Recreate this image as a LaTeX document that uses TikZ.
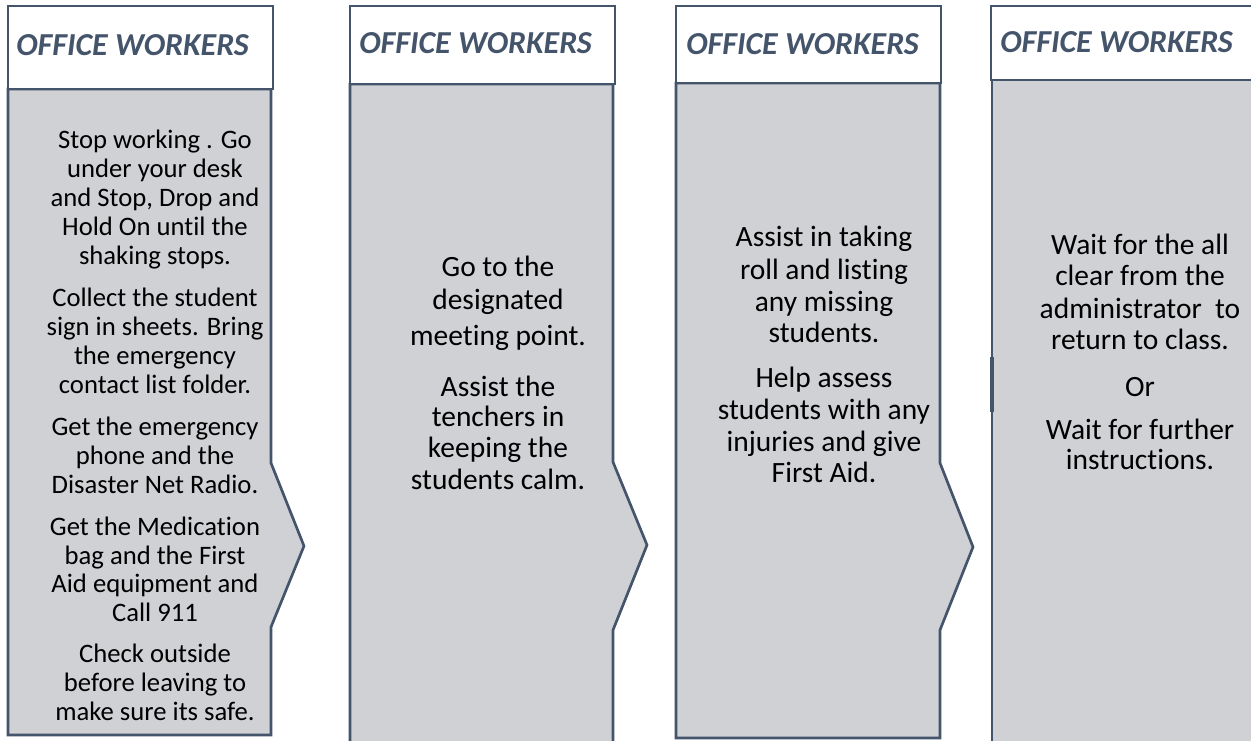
\documentclass[tikz,border=0pt]{standalone}
\usepackage{fontspec}
\setmainfont[Ligatures=NoCommon]{Carlito}
\definecolor{edge}{HTML}{44546A}
\definecolor{panel}{RGB}{208,209,213}
\begin{document}
\begin{tikzpicture}[x=0.75pt,y=-0.75pt,
  box/.style={draw=edge, line width=2pt, line join=miter},
  headtxt/.style={anchor=base west, inner sep=0pt, text=edge, font=\fontsize{24}{28}\selectfont\bfseries\itshape},
  bodyA/.style={anchor=base, inner sep=0pt, font=\fontsize{20}{24}\selectfont},
  bodyB/.style={anchor=base, inner sep=0pt, font=\fontsize{22.1}{26}\selectfont}]
\useasboundingbox (0,0) rectangle (1251,740);
\clip (0,0) rectangle (1251,740);
\fill[white] (0,0) rectangle (1251,740);

% panel 1
\draw[box, fill=panel] (8,89) -- (271,89) -- (271,463) -- (304,546) -- (271,627) -- (271,735) -- (8,735) -- cycle;
\draw[box, fill=white] (8,6) rectangle (273,89);
% panel 2
\draw[box, fill=panel] (350,84) -- (613,84) -- (613,462) -- (647,545) -- (613,630) -- (613,744) -- (350,744) -- cycle;
\draw[box, fill=white] (350,6) rectangle (615,84);
% panel 3
\draw[box, fill=panel] (676,83) -- (940,83) -- (940,463) -- (973,547) -- (940,630) -- (940,738) -- (676,738) -- cycle;
\draw[box, fill=white] (676,6) rectangle (941,83);
% panel 4
\draw[box, fill=panel] (992,80) -- (1262,80) -- (1262,746) -- (992,746) -- cycle;
\draw[box, fill=white] (991,6) rectangle (1262,80);
\draw[edge, line width=3.5pt] (992,357) -- (992,412);

% headers
\node[headtxt] (h1) at (16,55) {OFFICE WORKERS};
\node[headtxt] (h2) at (359,53) {OFFICE WORKERS};
\node[headtxt] (h3) at (686,54) {OFFICE WORKERS};
\node[headtxt] (h4) at (1000,52) {OFFICE WORKERS};

% column 1
\node[bodyA] (a1) at (155,148) {Stop working . Go};
\node[bodyA] (a2) at (155,177) {under your desk};
\node[bodyA] (a3) at (155,206) {and Stop, Drop and};
\node[bodyA] (a4) at (155,235) {Hold On until the};
\node[bodyA] (a5) at (155,264) {shaking stops.};
\node[bodyA] (a6) at (155,306) {Collect the student};
\node[bodyA] (a7) at (155,335) {sign in sheets. Bring};
\node[bodyA] (a8) at (155,364) {the emergency};
\node[bodyA] (a9) at (155,393) {contact list folder.};
\node[bodyA] (a10) at (155,435) {Get the emergency};
\node[bodyA] (a11) at (155,464) {phone and the};
\node[bodyA] (a12) at (155,493) {Disaster Net Radio.};
\node[bodyA] (a13) at (155,535) {Get the Medication};
\node[bodyA] (a14) at (155,564) {bag and the First};
\node[bodyA] (a15) at (155,592) {Aid equipment and};
\node[bodyA] (a16) at (155,621) {Call 911};
\node[bodyA] (a17) at (155,662) {Check outside};
\node[bodyA] (a18) at (155,691) {before leaving to};
\node[bodyA] (a19) at (155,720) {make sure its safe.};

% column 2
\node[bodyB] (b1) at (498,276) {Go to the};
\node[bodyB] (b2) at (498,309) {designated};
\node[bodyB] (b3) at (498,345) {meeting point.};
\node[bodyB] (b4) at (498,396) {Assist the};
\node[bodyB] (b5) at (498,426) {tenchers in};
\node[bodyB] (b6) at (498,457) {keeping the};
\node[bodyB] (b7) at (498,489) {students calm.};

% column 3
\node[bodyB] (c1) at (824,246) {Assist in taking};
\node[bodyB] (c2) at (824,279) {roll and listing};
\node[bodyB] (c3) at (824,311) {any missing};
\node[bodyB] (c4) at (824,342) {students.};
\node[bodyB] (c5) at (824,387) {Help assess};
\node[bodyB] (c6) at (824,419) {students with any};
\node[bodyB] (c7) at (824,451) {injuries and give};
\node[bodyB] (c8) at (824,482) {First Aid.};

% column 4
\node[bodyB] (d1) at (1140,254) {Wait for the all};
\node[bodyB] (d2) at (1140,285) {clear from the};
\node[bodyB] (d3) at (1140,318) {administrator\ \ to};
\node[bodyB] (d4) at (1140,349) {return to class.};
\node[bodyB] (d5) at (1140,396) {Or};
\node[bodyB] (d6) at (1140,439) {Wait for further};
\node[bodyB] (d7) at (1140,469) {instructions.};
\end{tikzpicture}
\end{document}
